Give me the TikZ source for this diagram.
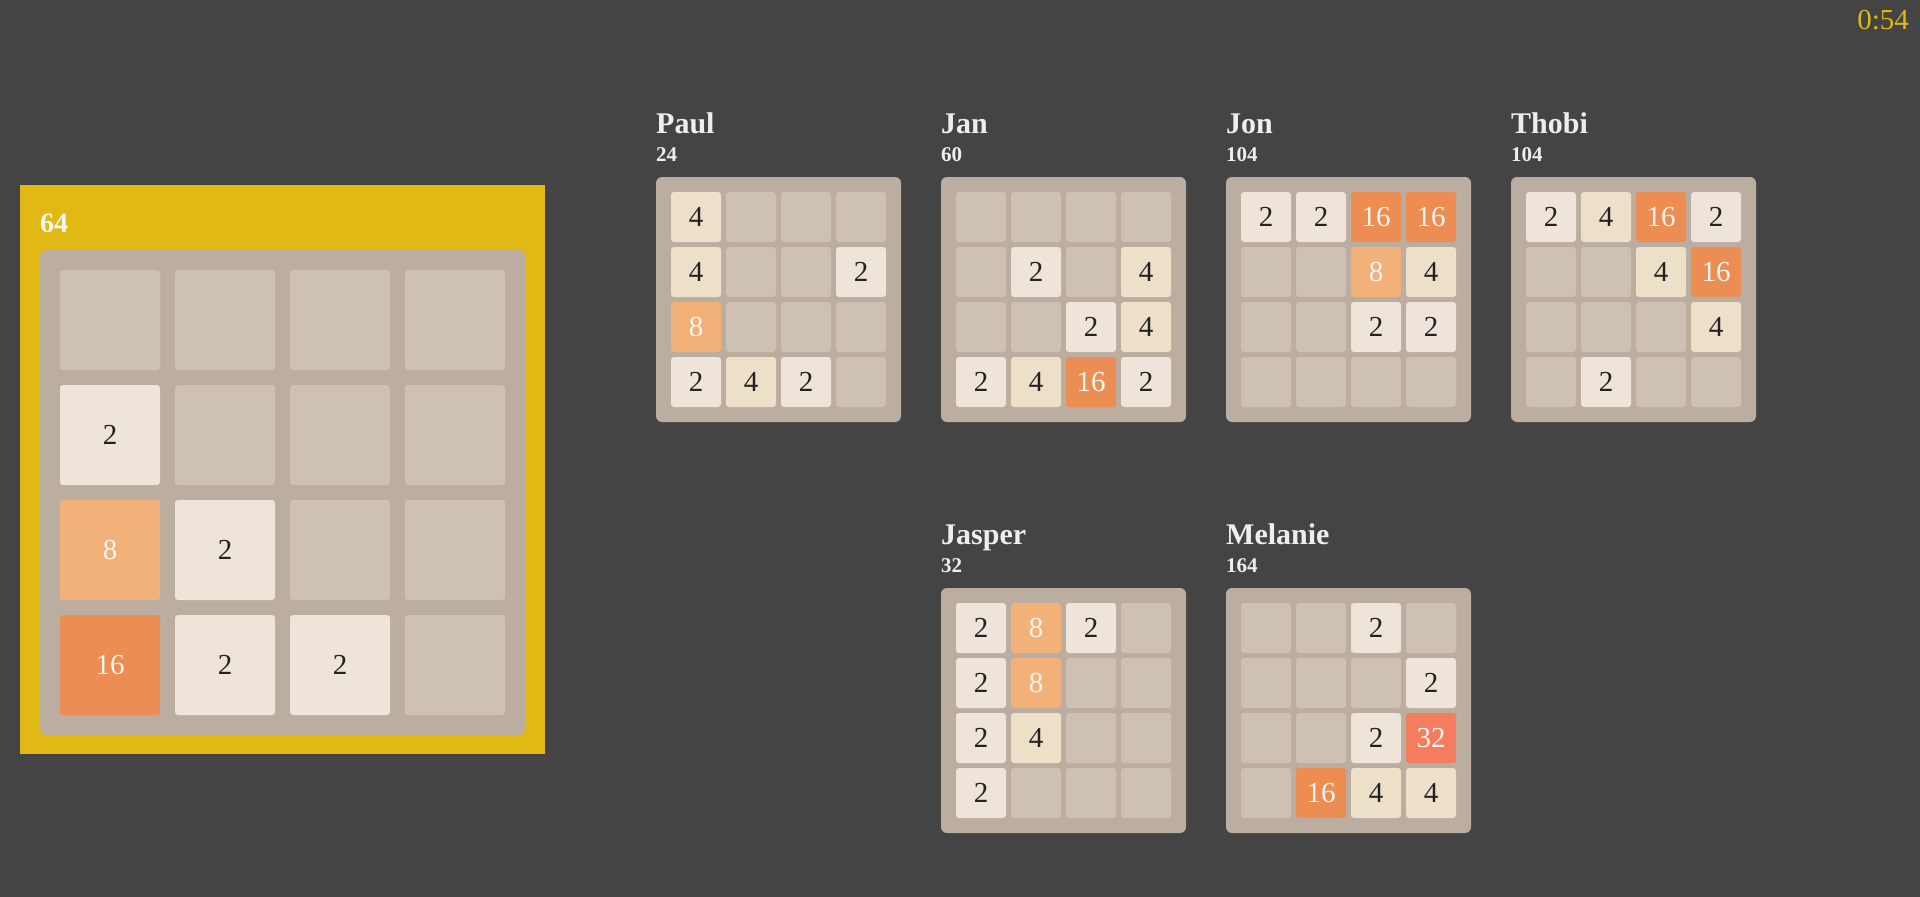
\documentclass[tikz,border=0pt]{standalone}
\usepackage{fontspec}
\setmainfont{Liberation Serif}

\definecolor{bgdark}{HTML}{444444}
\definecolor{gold}{HTML}{E1B914}
\definecolor{boardgray}{HTML}{BBADA0}
\definecolor{emptygray}{HTML}{CDC1B4}
\definecolor{twocol}{HTML}{EEE4DA}
\definecolor{fourcol}{HTML}{EDE0C8}
\definecolor{eightcol}{HTML}{F2B179}
\definecolor{sixteencol}{HTML}{EC8D53}
\definecolor{thirtytwocol}{HTML}{F47C5F}
\definecolor{darktext}{HTML}{222222}
\definecolor{lighttext}{HTML}{F9F6F2}
\definecolor{labeltext}{HTML}{EEEEEE}

\tikzset{
  board/.style={fill=boardgray, rounded corners=6pt},
  tile/.style={inner sep=0pt, rounded corners=3pt, font=\fontsize{29}{29}\selectfont},
  val0/.style={fill=emptygray},
  val2/.style={fill=twocol, text=darktext},
  val4/.style={fill=fourcol, text=darktext},
  val8/.style={fill=eightcol, text=lighttext},
  val16/.style={fill=sixteencol, text=lighttext},
  val32/.style={fill=thirtytwocol, text=lighttext},
  namelabel/.style={anchor=base west, inner sep=0pt, text=labeltext, font=\bfseries\fontsize{30}{30}\selectfont},
  scorelabel/.style={anchor=base west, inner sep=0pt, text=labeltext, font=\bfseries\fontsize{21}{21}\selectfont}
}

\begin{document}
\begin{tikzpicture}[x=1pt, y=-1pt]
  \fill[bgdark] (0,0) rectangle (1920,897);
  \useasboundingbox (0,0) rectangle (1920,897);

  \node[anchor=base east, inner sep=0pt, text=gold, font=\fontsize{29}{29}\selectfont] (timer) at (1909,29) {0:54};

  % own board
  \fill[gold] (20,185) rectangle (545,754);
  \node[anchor=base west, inner sep=0pt, text=lighttext, font=\bfseries\fontsize{28}{28}\selectfont] (own-score) at (40,232) {64};
  \fill[board] (40,250) rectangle (525,735);
  \foreach \v [count=\i from 0] in {0,0,0,0,2,0,0,0,8,2,0,0,16,2,2,0} {
    \pgfmathtruncatemacro\r{div(\i,4)}
    \pgfmathtruncatemacro\c{mod(\i,4)}
    \node[tile, val\v, minimum size=100pt] (own-\r-\c) at (110+115*\c, 320+115*\r) {\ifnum\v>0 \v\fi};
  }

  % other players
  \foreach \who/\nm/\pts/\bx/\by/\vals in {
      paul/Paul/24/656/177/{4,0,0,0,4,0,0,2,8,0,0,0,2,4,2,0},
      jan/Jan/60/941/177/{0,0,0,0,0,2,0,4,0,0,2,4,2,4,16,2},
      jon/Jon/104/1226/177/{2,2,16,16,0,0,8,4,0,0,2,2,0,0,0,0},
      thobi/Thobi/104/1511/177/{2,4,16,2,0,0,4,16,0,0,0,4,0,2,0,0},
      jasper/Jasper/32/941/588/{2,8,2,0,2,8,0,0,2,4,0,0,2,0,0,0},
      melanie/Melanie/164/1226/588/{0,0,2,0,0,0,0,2,0,0,2,32,0,16,4,4}} {
    \fill[board] (\bx,\by) rectangle ++(245,245);
    \node[namelabel] (\who-name) at (\bx,\by-44) {\nm};
    \node[scorelabel] (\who-score) at (\bx,\by-16) {\pts};
    \foreach \v [count=\i from 0] in \vals {
      \pgfmathtruncatemacro\r{div(\i,4)}
      \pgfmathtruncatemacro\c{mod(\i,4)}
      \node[tile, val\v, minimum size=50pt] (\who-\r-\c) at (\bx+40+55*\c, \by+40+55*\r) {\ifnum\v>0 \v\fi};
    }
  }
\end{tikzpicture}
\end{document}
